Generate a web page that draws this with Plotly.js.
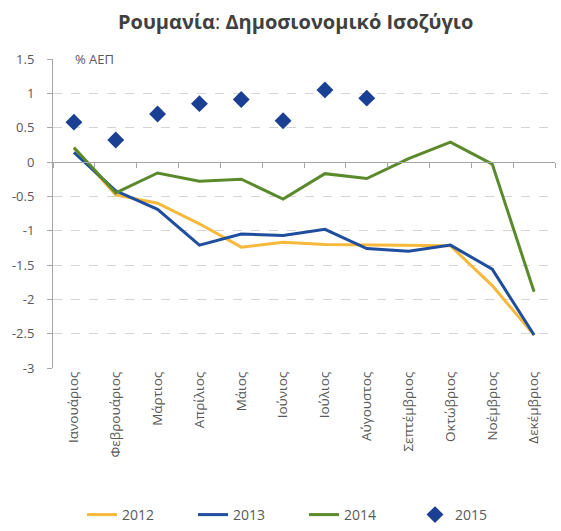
<!DOCTYPE html>
<html>
<head>
<meta charset="utf-8">
<script src="https://cdn.plot.ly/plotly-3.0.1.min.js"></script>
<style>html,body{margin:0;padding:0;background:#fff;}#chart{width:561px;height:531px;}</style>
</head>
<body>
<div id="chart"></div>
<script>
const months = ["Ιανουάριος","Φεβρουάριος","Μάρτιος","Απρίλιος","Μάιος","Ιούνιος","Ιούλιος","Αύγουστος","Σεπτέμβριος","Οκτώβριος","Νοέμβριος","Δεκέμβριος"];
const y2012 = [0.20,-0.48,-0.60,-0.90,-1.24,-1.17,-1.20,-1.21,-1.22,-1.22,-1.80,-2.52];
const y2013 = [0.14,-0.42,-0.69,-1.21,-1.05,-1.07,-0.98,-1.26,-1.30,-1.21,-1.56,-2.52];
const y2014 = [0.21,-0.45,-0.16,-0.28,-0.25,-0.54,-0.17,-0.24,0.05,0.29,-0.03,-1.89];
const months2015 = ["Ιανουάριος","Φεβρουάριος","Μάρτιος","Απρίλιος","Μάιος","Ιούνιος","Ιούλιος","Αύγουστος"];
const y2015 = [0.58,0.32,0.70,0.85,0.91,0.60,1.05,0.93];
const yTicks = [1.5,1,0.5,0,-0.5,-1,-1.5,-2,-2.5,-3];

const font = "Open Sans, Liberation Sans, sans-serif";
const traces = [
  {x: months, y: y2012, name: "2012", type: "scatter", mode: "lines", line: {color: "#F6B93B", width: 3}},
  {x: months, y: y2013, name: "2013", type: "scatter", mode: "lines", line: {color: "#1F4E9E", width: 3}},
  {x: months, y: y2014, name: "2014", type: "scatter", mode: "lines", line: {color: "#5A8A2C", width: 3}},
  {x: months2015, y: y2015, name: "2015", type: "scatter", mode: "markers", xaxis: "x2",
   marker: {symbol: "diamond", color: "#1A3F93", size: 13}}
];
const layout = {
  width: 561, height: 531,
  margin: {l: 53, r: 6, t: 59, b: 163},
  paper_bgcolor: "#fff", plot_bgcolor: "#fff",
  font: {family: font, color: "#595959", size: 12},
  title: {text: "<b>Ρουμανία</b>: <b>Δημοσιονομικό Ισοζύγιο</b>", x: 0.527, xanchor: "center", y: 0.958, yanchor: "middle",
          font: {family: font, size: 20, color: "#404040"}},
  showlegend: true,
  legend: {orientation: "h", x: 0.5, xanchor: "center", yref: "container", y: 0.0, yanchor: "bottom",
           font: {size: 14, color: "#595959"}, entrywidth: 66, traceorder: "normal"},
  xaxis: {type: "category", categoryarray: months, categoryorder: "array", range: [-0.5, 11.5],
          showgrid: false, zeroline: false, showline: false, ticks: "", tickangle: -90,
          tickfont: {size: 13.5, color: "#595959"}, fixedrange: true},
  xaxis2: {type: "category", categoryarray: months, categoryorder: "array", range: [-0.5, 11.5],
           overlaying: "x", anchor: "free", position: 3/4.5, side: "bottom",
           showline: true, linecolor: "#a6a6a6", linewidth: 1,
           ticks: "outside", tickson: "boundaries", ticklen: 5, tickcolor: "#a6a6a6",
           showticklabels: false, showgrid: false, zeroline: false},
  yaxis: {range: [-3, 1.5], tickvals: yTicks, ticktext: yTicks.map(String),
          showgrid: true, gridcolor: "#d4d4d4", griddash: "dash", gridwidth: 1,
          zeroline: false, showline: true, linecolor: "#a6a6a6", linewidth: 1,
          ticks: "outside", ticklen: 5, tickcolor: "#a6a6a6",
          tickfont: {size: 13, color: "#595959"}, ticklabelstandoff: 10},
  annotations: [
    {text: "% ΑΕΠ", xref: "paper", yref: "paper", x: 0.04, y: 1.0, xanchor: "left", yanchor: "middle",
     showarrow: false, font: {size: 13, color: "#595959"}, bgcolor: "#fff"}
  ]
};
Plotly.newPlot("chart", traces, layout, {displayModeBar: false, staticPlot: true});
</script>
</body>
</html>
